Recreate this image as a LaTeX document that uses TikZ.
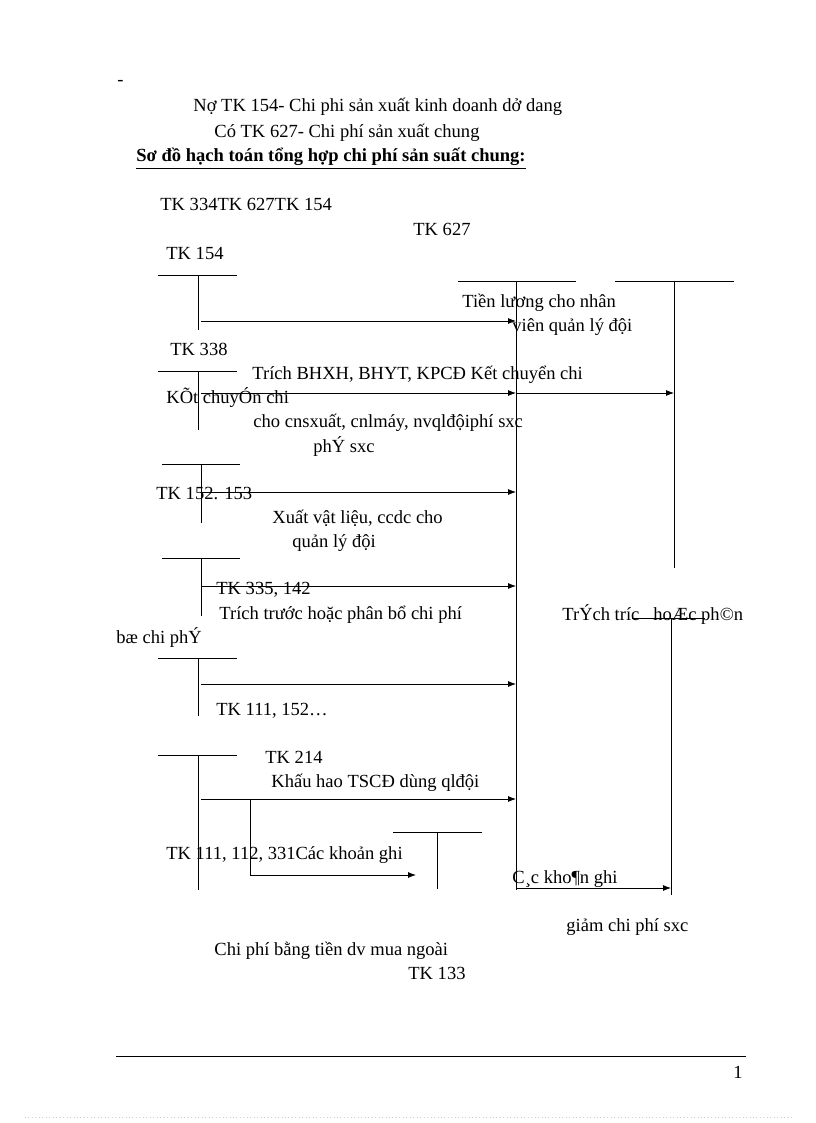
\documentclass[tikz,border=0pt]{standalone}
\usepackage{fontspec}
\setmainfont{Liberation Serif}
\usetikzlibrary{arrows.meta, positioning}

\begin{document}
\begin{tikzpicture}[x=0.75pt,y=-0.75pt,>={Latex[length=6pt,width=4.5pt]},line width=0.6pt,
		lbl/.style={anchor=base west,inner sep=0pt,yshift=-1.5pt,font=\fontsize{13.9}{16}\selectfont}]
		\useasboundingbox (0,0) rectangle (816,1123);

		% heading
		\draw (117,84) node[lbl] (dash) {-}
		(193,110) node[lbl] (no154) {Nợ TK 154- Chi phi sản xuất kinh doanh dở dang}
		(214,136) node[lbl] (co627) {Có TK 627- Chi phí sản xuất chung}
		(136,160) node[lbl,font=\fontsize{13.9}{16}\selectfont\bfseries] (title) {\underline{Sơ đồ hạch toán tổng hợp chi phí sản suất chung:}};

		% account labels and captions
		\draw (160,208) node[lbl] (tkrow) {TK 334TK 627TK 154}
		(413,233) node[lbl] (tk627) {TK 627}
		(166,257) node[lbl] (tk154) {TK 154}
		(462,305) node[lbl] (luong1) {Tiền lương cho nhân}
		(512,329) node[lbl] (luong2) {viên quản lý đội}
		(170,353) node[lbl] (tk338) {TK 338}
		(252,377) node[lbl] (bhxh1) {Trích BHXH, BHYT, KPCĐ Kết chuyển chi}
		(166,401) node[lbl] (ketch) {KÕt chuyÓn chi}
		(253,425) node[lbl] (bhxh2) {cho cnsxuất, cnlmáy, nvqlđộiphí sxc}
		(313,450) node[lbl] (phisxc) {phÝ sxc}
		(156,497) node[lbl] (tk152) {TK 152. 153}
		(272,521) node[lbl] (vl1) {Xuất vật liệu, ccdc cho}
		(292,545) node[lbl] (vl2) {quản lý đội}
		(216,592) node[lbl] (tk335) {TK 335, 142}
		(219,617) node[lbl] (trich1) {Trích trước hoặc phân bổ chi phí}
		(562,618) node[lbl] (trich2) {TrÝch tríc\ \ \ hoÆc ph©n}
		(116,641) node[lbl] (boch) {bæ chi phÝ}
		(216,713) node[lbl] (tk111) {TK 111, 152…}
		(265,761) node[lbl] (tk214) {TK 214}
		(271,785) node[lbl] (khau) {Khấu hao TSCĐ dùng qlđội}
		(166,857) node[lbl] (tk331) {TK 111, 112, 331Các khoản ghi}
		(512,881) node[lbl] (cackh) {C¸c kho¶n ghi}
		(566,929) node[lbl] (giam) {giảm chi phí sxc}
		(214,953) node[lbl] (muang) {Chi phí bằng tiền dv mua ngoài}
		(408,977) node[lbl] (tk133) {TK 133}
		(733,1076) node[lbl] (page) {1};

		% T accounts, left column
		\draw (158,275) -- (237,275) (198,275) -- (198,330);
		\draw (158,371) -- (237,371) (198,371) -- (198,430);
		\draw (162,464) -- (240,464) (201,464) -- (201,523);
		\draw (162,558) -- (240,558) (201,558) -- (201,616);
		\draw (158,658) -- (237,658) (198,658) -- (198,716);
		\draw (158,755) -- (237,755) (198,755) -- (198,890);
		\draw (393,832) -- (482,832) (437,832) -- (437,889);

		% T accounts, right side
		\draw (458,281) -- (576,281);
		\draw (516,281) coordinate (m0) -- (516,890) coordinate (m9);
		\draw (615,281) -- (734,281) (674,281) -- (674,568);
		\draw (632,618) -- (705,618) (671,618) -- (671,895);

		% arrows
		\coordinate (s1) at (201,321); \coordinate (e1) at (516,321);
		\coordinate (s2) at (201,393); \coordinate (e2) at (516,393);
		\coordinate (k2) at (674,393);
		\coordinate (s3) at (201,492); \coordinate (e3) at (516,492);
		\coordinate (s4) at (201,586); \coordinate (e4) at (516,586);
		\coordinate (s5) at (201,684); \coordinate (e5) at (516,684);
		\coordinate (s6) at (201,799); \coordinate (e6) at (516,799);
		\coordinate (b6) at (250,799); \coordinate (c6) at (250,875);
		\coordinate (v6) at (416,875);
		\coordinate (g1) at (516,888); \coordinate (g2) at (671,888);

		\draw[->] (s1) -- (e1);
		\draw[->] (s2) -- (e2);
		\draw[->] (e2) -- (k2);
		\draw[->] (s3) -- (e3);
		\draw[->] (s4) -- (e4);
		\draw[->] (s5) -- (e5);
		\draw[->] (s6) -- (e6);
		\draw[->] (b6) -- (c6) -- (v6);
		\draw[->] (g1) -- (g2);

		% footer
		\draw (116,1056) -- (746,1056);
		\draw[gray!40,dotted] (25,1117) -- (792,1117);
	\end{tikzpicture}
\end{document}
